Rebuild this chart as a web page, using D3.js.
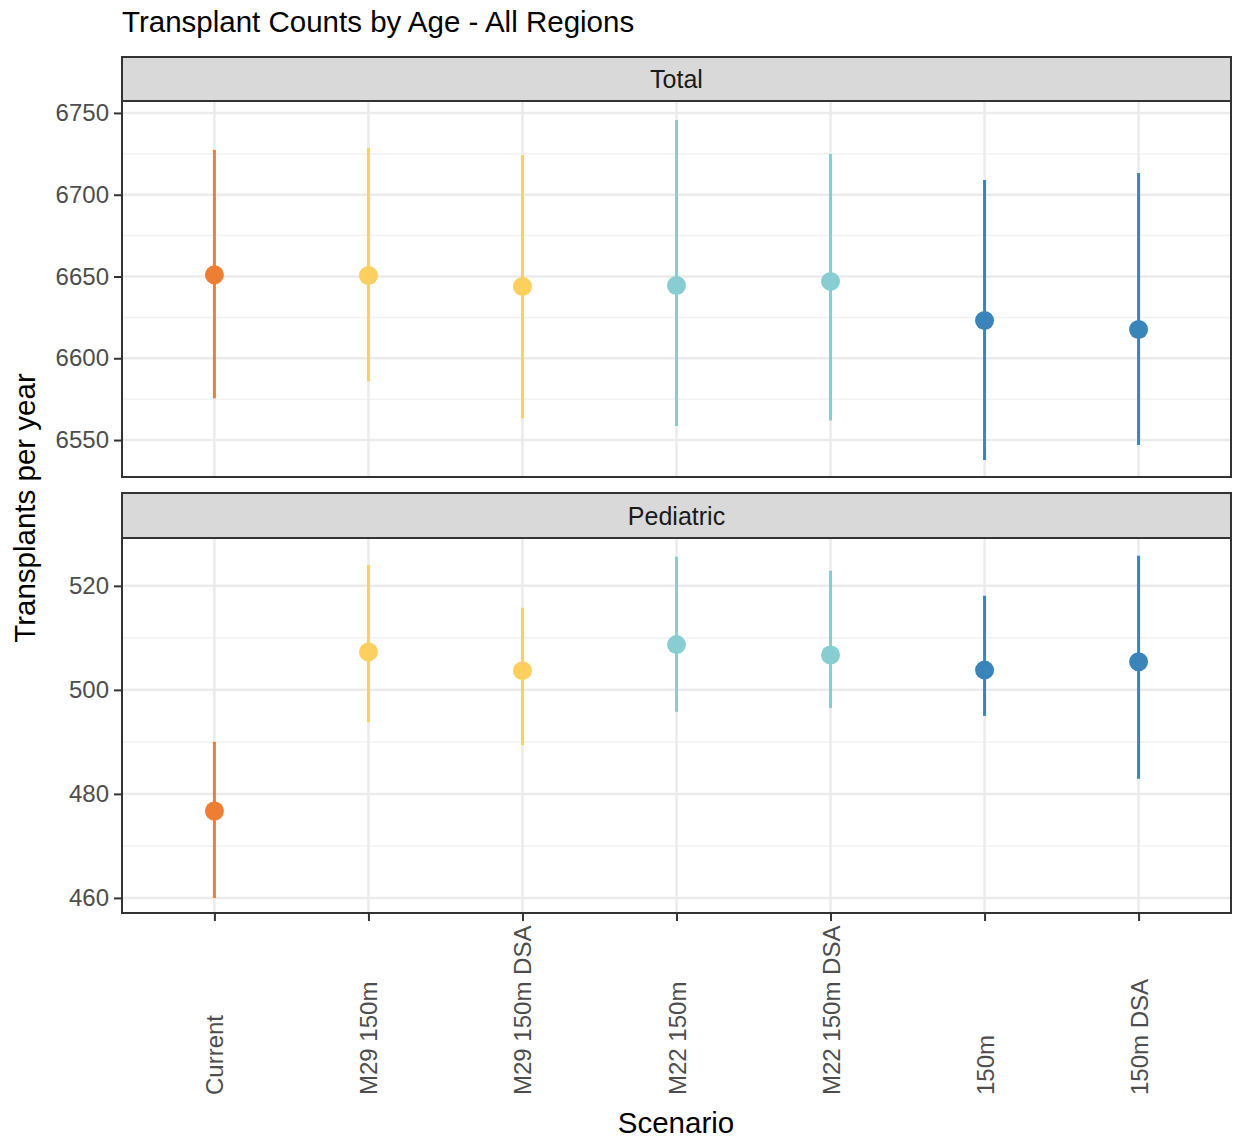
<!DOCTYPE html>
<html>
<head>
<meta charset="utf-8">
<script src="https://cdn.jsdelivr.net/npm/d3@7"></script>
<style>
  body { margin: 0; background: #fff; }
  svg { font-family: "Liberation Sans", Arial, sans-serif; }
</style>
</head>
<body>
<div id="chart"></div>
<script>
const width = 1235;
const height = 1139;

// scenari e gruppi di colore
const scenarios = ["Current", "M29 150m", "M29 150m DSA", "M22 150m", "M22 150m DSA", "150m", "150m DSA"];
const groups = ["cur", "m29", "m29", "m22", "m22", "base", "base"];

// Total
const totalMean = [6651, 6650.6, 6643.9, 6644.5, 6647, 6623.1, 6617.6];
const totalLow = [6575.5, 6585.9, 6563.3, 6558.6, 6562, 6537.8, 6547];
const totalHigh = [6727.4, 6728.6, 6724.3, 6745.7, 6724.9, 6709, 6713.3];

// Pediatric
const pedMean = [476.7, 507.3, 503.7, 508.7, 506.7, 503.8, 505.4];
const pedLow = [460, 493.8, 489.4, 495.8, 496.5, 495, 482.9];
const pedHigh = [490, 524, 515.8, 525.6, 522.9, 518.1, 525.8];

const totalTicks = [6550, 6600, 6650, 6700, 6750];
const pedTicks = [460, 480, 500, 520];

const color = d3.scaleOrdinal()
  .domain(["cur", "m29", "m22", "base"])
  .range(["#EE7E33", "#FCCF5E", "#87CDD1", "#3A84BA"]);

const svg = d3.select("#chart").append("svg")
  .attr("width", width)
  .attr("height", height);

const left = 122, right = 1231;

const x = d3.scalePoint()
  .domain(scenarios)
  .range([left, right])
  .padding(0.6);

const panels = [
  { name: "Total", strip: [57, 101], top: 101, bottom: 477, domain: [6527.4, 6757.3], ticks: totalTicks,
    mean: totalMean, low: totalLow, high: totalHigh },
  { name: "Pediatric", strip: [493, 538], top: 538, bottom: 913, domain: [457.1, 529.2], ticks: pedTicks,
    mean: pedMean, low: pedLow, high: pedHigh }
];

panels.forEach((p, pi) => {
  const y = d3.scaleLinear().domain(p.domain).range([p.bottom, p.top]);
  const g = svg.append("g");

  // griglia minore
  const step = p.ticks[1] - p.ticks[0];
  const minor = [];
  for (let i = 0; i <= p.ticks.length; i++) {
    const v = p.ticks[0] - step / 2 + i * step;
    if (v > p.domain[0] && v < p.domain[1]) minor.push(v);
  }
  g.selectAll(".minor").data(minor).join("line")
    .attr("x1", left).attr("x2", right)
    .attr("y1", d => y(d)).attr("y2", d => y(d))
    .attr("stroke", "#F2F2F2").attr("stroke-width", 1.5);

  // griglia maggiore
  g.selectAll(".major").data(p.ticks).join("line")
    .attr("x1", left).attr("x2", right)
    .attr("y1", d => y(d)).attr("y2", d => y(d))
    .attr("stroke", "#EBEBEB").attr("stroke-width", 2.5);

  g.selectAll(".vgrid").data(scenarios).join("line")
    .attr("x1", d => x(d)).attr("x2", d => x(d))
    .attr("y1", p.top).attr("y2", p.bottom)
    .attr("stroke", "#EBEBEB").attr("stroke-width", 2.5);

  // barre di errore
  g.selectAll(".err").data(scenarios).join("line")
    .attr("x1", d => x(d)).attr("x2", d => x(d))
    .attr("y1", (d, i) => y(p.low[i])).attr("y2", (d, i) => y(p.high[i]))
    .attr("stroke", (d, i) => color(groups[i]))
    .attr("stroke-width", 3);

  g.selectAll(".pt").data(scenarios).join("circle")
    .attr("cx", d => x(d))
    .attr("cy", (d, i) => y(p.mean[i]))
    .attr("r", 9.5)
    .attr("fill", (d, i) => color(groups[i]));

  // bordo pannello
  g.append("rect")
    .attr("x", left).attr("y", p.top)
    .attr("width", right - left).attr("height", p.bottom - p.top)
    .attr("fill", "none").attr("stroke", "#333").attr("stroke-width", 2);

  // strip
  g.append("rect")
    .attr("x", left).attr("y", p.strip[0])
    .attr("width", right - left).attr("height", p.strip[1] - p.strip[0])
    .attr("fill", "#D9D9D9").attr("stroke", "#333").attr("stroke-width", 2);
  g.append("text")
    .attr("x", (left + right) / 2).attr("y", (p.strip[0] + p.strip[1]) / 2 + 9)
    .attr("text-anchor", "middle")
    .attr("font-size", 25).attr("fill", "#1A1A1A")
    .text(p.name);

  // asse y
  const yAxis = g.append("g")
    .attr("transform", `translate(${left},0)`)
    .call(d3.axisLeft(y).tickValues(p.ticks).tickSize(8).tickPadding(5).tickFormat(d3.format("d")));
  yAxis.select(".domain").remove();
  yAxis.selectAll(".tick line").attr("stroke", "#333").attr("stroke-width", 2);
  yAxis.selectAll(".tick text").attr("font-size", 24).attr("fill", "#4D4D4D")
    .attr("font-family", "Liberation Sans, Arial, sans-serif");

  if (pi === 1) {
    const xAxis = g.append("g")
      .attr("transform", `translate(0,${p.bottom})`)
      .call(d3.axisBottom(x).tickSize(8).tickFormat(""));
    xAxis.select(".domain").remove();
    xAxis.selectAll(".tick line").attr("stroke", "#333").attr("stroke-width", 2);

    g.selectAll(".xlab").data(scenarios).join("text")
      .attr("transform", d => `translate(${x(d) + 9},1095) rotate(-90)`)
      .attr("text-anchor", "start")
      .attr("font-size", 24).attr("fill", "#4D4D4D")
      .text(d => d);
  }
});

// titoli
svg.append("text")
  .attr("x", 122).attr("y", 32)
  .attr("font-size", 29.5).attr("fill", "#000")
  .text("Transplant Counts by Age - All Regions");

svg.append("text")
  .attr("transform", "translate(35,508) rotate(-90)")
  .attr("text-anchor", "middle")
  .attr("font-size", 29.5).attr("fill", "#000")
  .text("Transplants per year");

svg.append("text")
  .attr("x", 676).attr("y", 1133)
  .attr("text-anchor", "middle")
  .attr("font-size", 29.5).attr("fill", "#000")
  .text("Scenario");
</script>
</body>
</html>
